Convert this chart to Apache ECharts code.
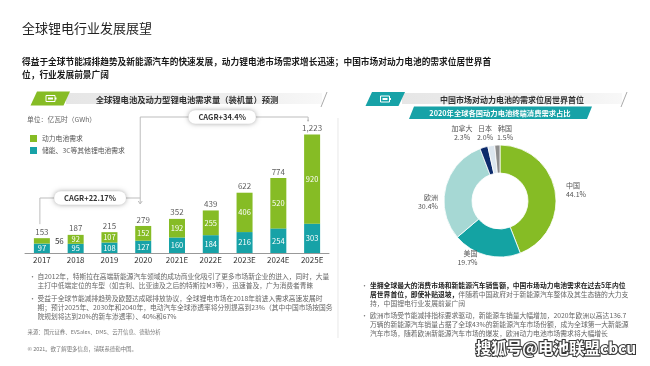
<!DOCTYPE html>
<html><head><meta charset="utf-8">
<script src="https://cdn.jsdelivr.net/npm/echarts@6/dist/echarts.min.js"></script>
<style>html,body{margin:0;padding:0;background:#fff}#c{width:650px;height:366px}</style>
</head><body><div id="c"></div>
<script>
// ---- data ----
const categories = ['2017','2018','2019','2020','2021E','2022E','2023E','2024E','2025E'];
const otherDemand = [97, 95, 108, 127, 160, 184, 216, 254, 303];
const powerDemand = [56, 92, 107, 152, 192, 255, 406, 520, 920];
const totalDemand = [153, 187, 215, 279, 352, 439, 622, 774, 1223];
const seriesNames = ['动力电池需求', '储能、3C等其他锂电池需求'];
const cagrLabels = ['CAGR+22.17%', 'CAGR+34.4%'];
const regions = ['中国', '美国', '欧洲', '加拿大', '日本', '韩国'];
const regionShare = [44.1, 19.7, 30.4, 2.3, 2.0, 1.5];

const FF = '"Noto Sans CJK SC","Noto Sans",sans-serif';
const GREEN = '#86BC25', TEAL = '#17A2A7';
const regionColors = [GREEN, '#14A3A3', '#A6D8D4', '#0C2B6B', '#DCE6EE', '#8E8E8E'];

const chart = echarts.init(document.getElementById('c'), null, {renderer: 'canvas'});

function T(x, y, text, o) {
  o = o || {};
  return {type: 'text', x: x, y: y, silent: true, z: o.z || 10, style: Object.assign({
    text: text, fontFamily: FF, fontSize: o.size || 7, fontWeight: o.weight || 'normal',
    fill: o.color || '#555', align: o.align || 'left', verticalAlign: o.va || 'middle',
    lineHeight: o.lh || undefined
  }, o.extra || {})};
}
function battery(cx, cy) {
  return [
    {type: 'rect', silent: true, z: 11, shape: {x: cx - 5, y: cy - 3, width: 9, height: 6},
      style: {fill: 'none', stroke: '#fff', lineWidth: 1}},
    {type: 'rect', silent: true, z: 11, shape: {x: cx + 4, y: cy - 1, width: 1.5, height: 2}, style: {fill: '#fff'}},
    {type: 'rect', silent: true, z: 11, shape: {x: cx - 3, y: cy - 1, width: 5, height: 2}, style: {fill: '#fff'}}
  ];
}
const bandFill = new echarts.graphic.LinearGradient(0, 0, 1, 0, [
  {offset: 0, color: '#e6e6e6'}, {offset: 0.7, color: '#efefef'}, {offset: 1, color: '#f8f8f8'}]);

const staticGraphic = [
  T(22, 28.5, '全球锂电行业发展展望', {size: 13, color: '#222'}),
  T(22, 55.5, '得益于全球节能减排趋势及新能源汽车的快速发展，动力锂电池市场需求增长迅速；中国市场对动力电池的需求位居世界首\n位，行业发展前景广阔',
    {size: 8.7, weight: 'bold', color: '#1a1a1a', va: 'top', lh: 13}),
  // left header
  {type: 'rect', silent: true, shape: {x: 66, y: 93, width: 256, height: 11}, style: {fill: bandFill}},
  {type: 'polygon', silent: true, z: 10, shape: {points: [[37, 91.5], [70, 91.5], [63.5, 105.5], [30.5, 105.5]]}, style: {fill: GREEN}},
  ...battery(51, 98.5),
  {type: 'line', silent: true, shape: {x1: 321, y1: 107, x2: 327, y2: 92}, style: {stroke: '#aaa', lineWidth: 1}},
  T(187, 99.5, '全球锂电池及动力型锂电池需求量（装机量）预测', {size: 8.3, weight: 'bold', color: '#333', align: 'center'}),
  T(27, 119.5, '单位：亿瓦时（GWh）', {size: 6.8, color: '#666'}),
  // right header
  {type: 'rect', silent: true, shape: {x: 402, y: 93, width: 220, height: 11}, style: {fill: bandFill}},
  {type: 'polygon', silent: true, z: 10, shape: {points: [[372, 92], [405, 92], [398.5, 106], [365.5, 106]]}, style: {fill: TEAL}},
  ...battery(385.5, 99),
  {type: 'line', silent: true, shape: {x1: 621, y1: 107, x2: 627, y2: 92}, style: {stroke: '#aaa', lineWidth: 1}},
  T(512, 99.5, '中国市场对动力电池的需求位居世界首位', {size: 8, weight: 'bold', color: '#333', align: 'center'}),
  {type: 'polygon', silent: true, z: 10, shape: {points: [[414, 106.5], [592, 106.5], [587, 119], [409, 119]]}, style: {fill: TEAL}},
  T(500, 113, '2020年全球各国动力电池终端消费需求占比', {size: 7.3, weight: 'bold', color: '#fff', align: 'center', z: 12}),
  // divider
  {type: 'line', silent: true, shape: {x1: 338, y1: 118, x2: 338, y2: 338}, style: {stroke: '#ececec', lineWidth: 1.2}},
  // left bullets
  T(29, 276, '•', {size: 7, color: '#777'}),
  T(37.5, 271.5, '自2012年，特斯拉在高端新能源汽车领域的成功商业化吸引了更多市场新企业的进入，同时，大量\n主打中低端定位的车型（如吉利、比亚迪及之后的特斯拉M3等），迅速普及，广为消费者青睐',
    {size: 6.75, color: '#666', va: 'top', lh: 9}),
  T(29, 298.3, '•', {size: 7, color: '#777'}),
  T(37.5, 293.8, '受益于全球节能减排趋势及欧盟达成碳排放协议，全球锂电市场在2018年前进入需求高速发展时\n期；预计2025年、2030年和2040年，电动汽车全球渗透率将分别提高到23%（其中中国市场按国务\n院规划将达到20%的新车渗透率）、40%和67%',
    {size: 6.75, color: '#666', va: 'top', lh: 9.2}),
  T(27.5, 331.7, '来源：国元证券、EVSales、DMS、云开信息、德勤分析', {size: 5.4, color: '#777'}),
  T(27.5, 349.3, '© 2021。欲了解更多信息，请联系德勤中国。', {size: 5.4, color: '#777'}),
  // right bullets
  T(361, 285, '•', {size: 7, color: '#777'}),
  {type: 'text', x: 370, y: 280.6, silent: true, z: 10, style: {
    text: '{b|坐拥全球最大的消费市场和新能源汽车销售额，中国市场动力电池需求在过去5年内位}\n{b|居世界首位，即使补贴退坡，}{n|伴随着中国政府对于新能源汽车整体及其生态链的大力支}\n{n|持，中国锂电行业发展前景广阔}',
    fontFamily: FF, fontSize: 6.8, verticalAlign: 'top', lineHeight: 9.1,
    rich: {b: {fontFamily: FF, fontSize: 6.8, fontWeight: 'bold', fill: '#222', lineHeight: 9.1},
           n: {fontFamily: FF, fontSize: 6.8, fill: '#666', lineHeight: 9.1}}}},
  T(361, 315, '•', {size: 7, color: '#777'}),
  T(370, 310.5, '欧洲市场受节能减排指标要求驱动，新能源车销量大幅增加，2020年欧洲以高达136.7\n万辆的新能源汽车销量占据了全球43%的新能源汽车市场份额，成为全球第一大新能源\n汽车市场，随着欧洲新能源汽车市场的爆发，欧洲动力电池市场需求将大幅增长',
    {size: 6.8, color: '#666', va: 'top', lh: 9.2}),
  // watermark
  T(556, 348, '搜狐号@电池联盟cbcu', {size: 15.5, weight: 'bold', color: '#fff', align: 'center', z: 20,
    extra: {stroke: '#3a3a3a', lineWidth: 2.2}})
];

const option = {
  animation: false,
  textStyle: {fontFamily: FF},
  legend: {
    data: seriesNames, orient: 'vertical', left: 25, top: 130, itemWidth: 7, itemHeight: 7, itemGap: 5,
    icon: 'rect', textStyle: {fontSize: 6.8, color: '#555', fontFamily: FF}, selectedMode: false
  },
  grid: {left: 25, width: 304, top: 127, height: 126},
  xAxis: {
    type: 'category', data: categories,
    axisLine: {lineStyle: {color: '#999', width: 1}}, axisTick: {show: false},
    axisLabel: {fontSize: 8, color: '#333', margin: 3, fontFamily: FF}
  },
  yAxis: {type: 'value', min: 0, max: 1300, show: false, splitLine: {show: false}},
  series: [
    {name: seriesNames[1], type: 'bar', stack: 'd', barWidth: 16, data: otherDemand,
      itemStyle: {color: TEAL},
      label: {show: true, position: 'inside', color: '#fff', fontSize: 7.5, fontFamily: FF}},
    {name: seriesNames[0], type: 'bar', stack: 'd', barWidth: 16,
      data: powerDemand.map((v, i) => i === 0 ? {value: v, label: {position: 'right', color: '#333', fontSize: 8, distance: 5}} : v),
      itemStyle: {color: GREEN},
      label: {show: true, position: 'inside', color: '#fff', fontSize: 7.5, fontFamily: FF}},
    {name: 'total', type: 'scatter', data: totalDemand, symbolSize: 1, itemStyle: {color: 'rgba(0,0,0,0)'},
      label: {show: true, position: 'top', distance: 2, fontSize: 8, color: '#333', fontFamily: FF,
        formatter: p => p.value.toLocaleString('en-US')}},
    {name: 'share', type: 'pie', center: [500, 201], radius: [28, 56], startAngle: 90, clockwise: true,
      data: regions.map((r, i) => ({name: r, value: regionShare[i], itemStyle: {color: regionColors[i]}})),
      itemStyle: {borderColor: '#fff', borderWidth: 0.8},
      label: {show: true, position: 'outside', fontSize: 7, color: '#555', lineHeight: 9, fontFamily: FF,
        formatter: p => p.name + '\n' + p.value.toFixed(1) + '%'},
      labelLine: {show: false, length: 3, length2: 3},
      labelLayout: function (p) {
        if (p.dataIndex >= 3) {
          const xs = [462, 485, 505];
          return {x: xs[p.dataIndex - 3], y: 133, align: 'center', verticalAlign: 'middle'};
        }
        return {};
      }
    }
  ],
  graphic: staticGraphic
};
chart.setOption(option);

// ---- CAGR annotations positioned from the axes ----
const px = c => chart.convertToPixel({xAxisIndex: 0}, c);
const py = v => chart.convertToPixel({yAxisIndex: 0}, v);
const x17 = px(categories[0]) - 2, x20 = px(categories[3]) - 3, x25 = px(categories[8]) - 4;
const yA = 198, yB = 117;
const LS = {stroke: '#bdbdbd', lineWidth: 1};
function L(x1, y1, x2, y2) { return {type: 'line', silent: true, z: 5, shape: {x1, y1, x2, y2}, style: LS}; }
function arrow(x, y) { return {type: 'polyline', silent: true, z: 5, shape: {points: [[x - 2, y - 3], [x, y], [x + 2, y - 3]]}, style: LS}; }
function cagr(x, y, t) {
  return {type: 'text', x: x, y: y, silent: true, z: 8, style: {text: t, fontFamily: FF, fontSize: 7.5, fontWeight: 'bold',
    fill: '#333', align: 'center', verticalAlign: 'middle', backgroundColor: '#fff', padding: [3, 10], borderRadius: 7,
    shadowColor: 'rgba(0,0,0,0.35)', shadowBlur: 5}};
}
const y0top = py(totalDemand[0]) - 14, y3top = py(totalDemand[3]) - 14, y8top = py(totalDemand[8]) - 14;
const annot = [
  L(x17, yA, x20, yA), L(x17, yA, x17, y0top), L(x20, yB, x20, Math.min(y3top, 204)), arrow(x20, Math.min(y3top, 204)),
  L(x20, yB, x25, yB), L(x25, yB, x25, Math.min(y8top, 124)),
  {type: 'circle', silent: true, z: 5, shape: {cx: x25, cy: Math.min(y8top, 124), r: 1}, style: {fill: '#bbb'}},
  cagr((x17 + x20) / 2, yA, cagrLabels[0]),
  cagr((x20 + x25) / 2 - 2, yB, cagrLabels[1])
];
chart.setOption({graphic: staticGraphic.concat(annot)});
</script></body></html>
